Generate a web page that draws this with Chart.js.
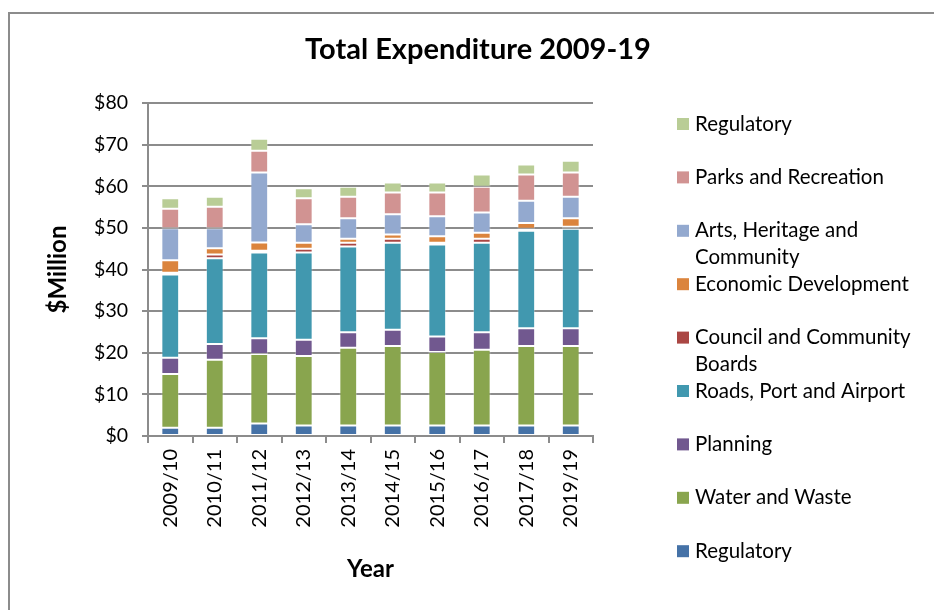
<!DOCTYPE html>
<html>
<head>
<meta charset="utf-8">
<script src="https://cdn.jsdelivr.net/npm/chart.js@4.4.1/dist/chart.umd.min.js"></script>
<style>
    html, body { margin: 0; padding: 0; background: #fff; }
    #wrap { position: relative; width: 934px; height: 610px; }
</style>
</head>
<body>
<div id="wrap"><canvas id="expChart" width="934" height="610"></canvas></div>
<script>
const years = ['2009/10', '2010/11', '2011/12', '2012/13', '2013/14', '2014/15', '2015/16', '2016/17', '2017/18', '2019/19'];

// stacked from the bottom up ($ million)
const regulatoryBase = [2.0, 2.0, 3.0, 2.5, 2.5, 2.5, 2.5, 2.5, 2.5, 2.5];
const waterWaste = [12.9, 16.3, 16.7, 16.7, 18.7, 19.1, 17.7, 18.2, 19.1, 19.1];
const planning = [3.9, 3.8, 3.8, 3.9, 3.7, 3.9, 3.7, 4.2, 4.3, 4.3];
const roadsPortAirport = [20.0, 20.6, 20.6, 21.0, 20.6, 20.9, 22.1, 21.5, 23.4, 23.9];
const councilBoards = [0.4, 0.9, 0.4, 0.9, 0.9, 1.0, 0.4, 1.0, 0.5, 0.5];
const economicDev = [3.0, 1.5, 2.0, 1.4, 1.0, 1.0, 1.6, 1.4, 1.4, 2.0];
const artsHeritage = [7.7, 4.8, 16.8, 4.5, 4.9, 4.9, 4.8, 4.9, 5.3, 5.2];
const parksRec = [4.7, 5.2, 5.2, 6.2, 5.2, 5.2, 5.7, 6.2, 6.3, 5.8];
const regulatoryTop = [2.5, 2.4, 2.9, 2.4, 2.4, 2.4, 2.4, 2.9, 2.4, 2.8];

const seriesNames = ['Regulatory', 'Water and Waste', 'Planning', 'Roads, Port and Airport',
    'Council and Community Boards', 'Economic Development', 'Arts, Heritage and Community',
    'Parks and Recreation', 'Regulatory'];
const seriesColors = ['#4572A7', '#89A54E', '#71588F', '#4198AF', '#AA4643',
    '#DB843D', '#93A9CF', '#D19392', '#B9CD96'];
const seriesData = [regulatoryBase, waterWaste, planning, roadsPortAirport, councilBoards,
    economicDev, artsHeritage, parksRec, regulatoryTop];

const yTicks = [0, 10, 20, 30, 40, 50, 60, 70, 80];

const fontFamily = 'Lato, "Open Sans", sans-serif';
const gridGrey = '#8c8c8c';

// frame, title and the wrapped legend on the right
const decorations = {
    id: 'decorations',
    beforeDraw(chart) {
        const c = chart.ctx;
        c.save();
        c.strokeStyle = '#8c8c8c';
        c.lineWidth = 2;
        c.strokeRect(9, 13, 1000, 1000);
        c.restore();
    },
    afterDraw(chart) {
        const c = chart.ctx;
        c.save();
        c.fillStyle = '#000';
        c.font = 'bold 29px ' + fontFamily;
        c.textAlign = 'center';
        c.textBaseline = 'middle';
        c.fillText('Total Expenditure 2009-19', 478, 50);

        c.font = '20.5px ' + fontFamily;
        c.textAlign = 'left';
        const lineH = 26.7;
        let y = 124;
        const items = chart.data.datasets.slice().reverse();
        items.forEach(ds => {
            c.fillStyle = ds.backgroundColor;
            c.fillRect(677, y - 6, 12, 12);
            c.fillStyle = '#000';
            const words = ds.label.split(' ');
            const lines = [];
            let cur = '';
            words.forEach(w => {
                const test = cur ? cur + ' ' + w : w;
                if (c.measureText(test).width > 226 && cur) {
                    lines.push(cur);
                    cur = w;
                } else {
                    cur = test;
                }
            });
            lines.push(cur);
            lines.forEach((ln, i) => c.fillText(ln, 695, y + i * lineH));
            y += lineH * 2;
        });
        c.restore();
    }
};

const ctx = document.getElementById('expChart').getContext('2d');
const expChart = new Chart(ctx, {
    type: 'bar',
    data: {
        labels: years,
        datasets: seriesData.map((d, i) => ({
            label: seriesNames[i],
            data: d,
            backgroundColor: seriesColors[i],
            borderColor: 'rgba(255,255,255,0.3)',
            borderWidth: 1,
            borderSkipped: false,
            categoryPercentage: 1,
            barPercentage: 0.4,
        })),
    },
    options: {
        responsive: false,
        animation: false,
        layout: {
            padding: { left: 38, right: 341, top: 103, bottom: 26 },
        },
        scales: {
            x: {
                stacked: true,
                afterFit: s => { s.height = 148; },
                grid: {
                    drawOnChartArea: false,
                    drawTicks: true,
                    tickLength: 7,
                    color: gridGrey,
                    lineWidth: 2,
                },
                border: { color: gridGrey, width: 2 },
                ticks: {
                    color: '#000',
                    font: { family: fontFamily, size: 20 },
                    minRotation: 90,
                    maxRotation: 90,
                    padding: 6,
                },
                title: {
                    display: true,
                    text: 'Year',
                    color: '#000',
                    font: { family: fontFamily, size: 24, weight: 'bold' },
                    padding: 0,
                },
            },
            y: {
                stacked: true,
                min: 0,
                max: 80,
                afterFit: s => { s.width = 110; },
                afterBuildTicks: s => { s.ticks = yTicks.map(v => ({ value: v })); },
                grid: {
                    color: gridGrey,
                    lineWidth: 2,
                    tickLength: 6,
                },
                border: { color: gridGrey, width: 2 },
                ticks: {
                    color: '#000',
                    font: { family: fontFamily, size: 19.5 },
                    padding: 14,
                    callback: v => '$' + v,
                },
                title: {
                    display: true,
                    text: '$Million',
                    color: '#000',
                    font: { family: fontFamily, size: 24, weight: 'bold' },
                    padding: { top: 6, bottom: 0 },
                },
            },
        },
        plugins: {
            legend: { display: false },
            title: { display: false },
            tooltip: { enabled: false },
        },
    },
    plugins: [decorations],
});
</script>
</body>
</html>
